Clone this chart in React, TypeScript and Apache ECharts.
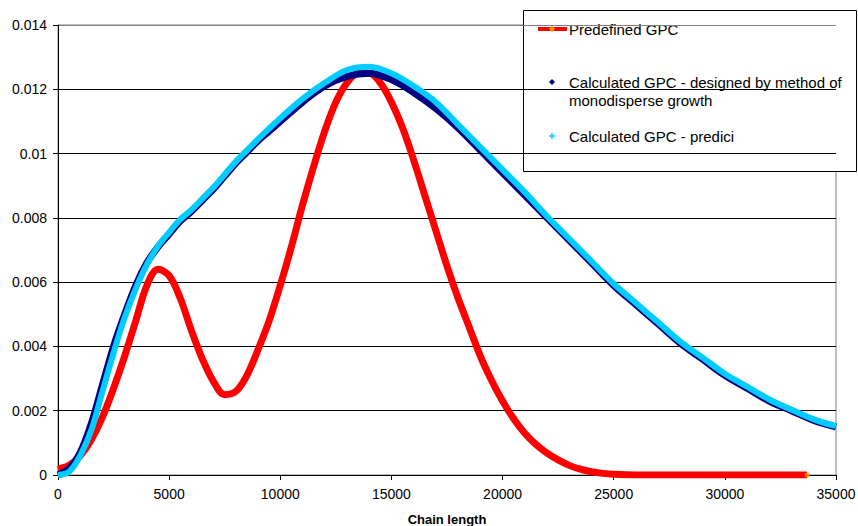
import React, { useEffect, useRef } from "react";
import * as echarts from "echarts";

// Predefined GPC (red)
const predefinedX = [0, 500, 1000, 1500, 2000, 2500, 3000, 3500, 4000, 4500, 5000, 5500, 6000, 6500, 7000, 7500, 8000, 8500, 9000, 9500, 10000, 10500, 11000, 11500, 12000, 12500, 13000, 13500, 14000, 14500, 15000, 15500, 16000, 16500, 17000, 17500, 18000, 18500, 19000, 19500, 20000, 20500, 21000, 21500, 22000, 22500, 23000, 23500, 24000, 24500, 25000, 26000, 27000, 28000, 29000, 30000, 31000, 32000, 33000, 33700];
const predefinedY = [0.00018, 0.0003, 0.0006, 0.0011, 0.0018, 0.0027, 0.0037, 0.0048, 0.0059, 0.0064, 0.0062, 0.0055, 0.0045, 0.0036, 0.0029, 0.0025, 0.0026, 0.0031, 0.0039, 0.0048, 0.0059, 0.0071, 0.0084, 0.0096, 0.0107, 0.0116, 0.0122, 0.0125, 0.0125, 0.0122, 0.0116, 0.0108, 0.0098, 0.0087, 0.0076, 0.0065, 0.0055, 0.0046, 0.0037, 0.00295, 0.0023, 0.00175, 0.0013, 0.00095, 0.00068, 0.00047, 0.0003, 0.00018, 0.0001, 0.00005, 0.00002, 0, 0, 0, 0, 0, 0, 0, 0, 0];

// Calculated GPC - designed by method of monodisperse growth (navy) and predici (cyan)
const calcX = [0, 500, 1000, 1500, 2000, 2500, 3000, 3500, 4000, 4500, 5000, 5500, 6000, 6500, 7000, 7500, 8000, 8500, 9000, 9500, 10000, 11000, 12000, 13000, 14000, 15000, 16000, 17000, 18000, 19000, 20000, 21000, 22000, 23000, 24000, 25000, 26000, 27000, 28000, 29000, 30000, 31000, 32000, 33000, 34000, 35000];
const monodisperseY = [0, 0.0002, 0.0007, 0.0016, 0.0028, 0.004, 0.005, 0.0059, 0.0066, 0.0071, 0.0075, 0.0079, 0.0082, 0.00855, 0.0089, 0.0093, 0.0097, 0.01005, 0.0104, 0.0107, 0.011, 0.0116, 0.0121, 0.0124, 0.0125, 0.0123, 0.0119, 0.0114, 0.0108, 0.0101, 0.0094, 0.0087, 0.008, 0.0073, 0.0066, 0.0059, 0.0053, 0.0047, 0.0041, 0.0036, 0.0031, 0.0027, 0.0023, 0.002, 0.0017, 0.0015];
const prediciY = [0, 0.0001, 0.0006, 0.0014, 0.0026, 0.0038, 0.0049, 0.0058, 0.00655, 0.00712, 0.00755, 0.00795, 0.00825, 0.0086, 0.00895, 0.00935, 0.00975, 0.0101, 0.01045, 0.01078, 0.0111, 0.0117, 0.0122, 0.0126, 0.0127, 0.0125, 0.0121, 0.0116, 0.0109, 0.0102, 0.0095, 0.0088, 0.00805, 0.00735, 0.00665, 0.00595, 0.00535, 0.00475, 0.00415, 0.00365, 0.00315, 0.00275, 0.00235, 0.00203, 0.00173, 0.00152];

const yTicks = ["0", "0.002", "0.004", "0.006", "0.008", "0.01", "0.012", "0.014"];
const xTicks = ["0", "5000", "10000", "15000", "20000", "25000", "30000", "35000"];
const legendNames = ["Predefined GPC", "Calculated GPC - designed by method of", "monodisperse growth", "Calculated GPC - predici"];

const FONT = "Liberation Sans, Arial, sans-serif";

export default function App() {
  const ref = useRef<HTMLDivElement>(null);
  useEffect(() => {
    if (!ref.current) return;
    const chart = echarts.init(ref.current, undefined, { renderer: "svg" });
    const zip = (xs: number[], ys: number[]) => xs.map((x, i) => [x, ys[i]]);
    const last = predefinedX.length - 1;
    chart.setOption({
      animation: false,
      backgroundColor: "#fff",
      textStyle: { fontFamily: FONT },
      grid: {
        left: 58, right: 22, top: 25, bottom: 51,
        outerBoundsMode: "none",
        containLabel: false,
        show: true, borderColor: "#808080", borderWidth: 1, backgroundColor: "transparent",
      },
      xAxis: {
        type: "value",
        min: 0,
        max: 35000,
        interval: 5000,
        name: "Chain length",
        nameLocation: "middle",
        nameGap: 38,
        nameTextStyle: { fontSize: 13, fontWeight: "bold", color: "#000", fontFamily: FONT },
        axisLine: { show: true, lineStyle: { color: "#000", width: 1 } },
        axisTick: { show: true, length: 5, lineStyle: { color: "#000" } },
        axisLabel: {
          fontSize: 14, color: "#000", margin: 12, fontFamily: FONT,
          formatter: (v: number) => xTicks[Math.round(v / 5000)] ?? String(v),
        },
        splitLine: { show: false },
      },
      yAxis: {
        type: "value",
        min: 0,
        max: 0.014,
        interval: 0.002,
        axisLine: { show: true, lineStyle: { color: "#000", width: 1 } },
        axisTick: { show: true, length: 5, lineStyle: { color: "#000" } },
        axisLabel: {
          fontSize: 14,
          color: "#000",
          margin: 11,
          fontFamily: FONT,
          formatter: (v: number) => yTicks[Math.round(v / 0.002)] ?? String(v),
        },
        splitLine: { show: true, lineStyle: { color: ["#000", "#000", "#000", "#000", "#000", "#000", "#000", "#808080"], width: 1 } },
      },
      series: [
        {
          name: legendNames[0],
          type: "line",
          data: zip(predefinedX, predefinedY),
          smooth: 0.35,
          showSymbol: false,
          lineStyle: { color: "#ff0000", width: 7 },
          itemStyle: { color: "#ff0000" },
          z: 2,
        },
        {
          name: "Predefined GPC end",
          type: "scatter",
          data: [[predefinedX[last], predefinedY[last]]],
          symbol: "circle",
          symbolSize: 5,
          itemStyle: { color: "#ff9900" },
          z: 3,
        },
        {
          name: legendNames[1] + " " + legendNames[2],
          type: "line",
          data: zip(calcX, monodisperseY),
          smooth: 0.35,
          showSymbol: false,
          lineStyle: { color: "#000080", width: 7 },
          itemStyle: { color: "#000080" },
          z: 4,
        },
        {
          name: legendNames[3],
          type: "line",
          data: zip(calcX, prediciY),
          smooth: 0.35,
          showSymbol: false,
          lineStyle: { color: "#00ccff", width: 6 },
          itemStyle: { color: "#00ccff" },
          z: 5,
        },
      ],
      graphic: [
        {
          type: "group",
          z: 100,
          children: [
            { type: "rect", shape: { x: 523.5, y: 10.5, width: 333, height: 161 }, style: { fill: "#fff", stroke: "#000", lineWidth: 1 } },
            { type: "line", shape: { x1: 538, y1: 29, x2: 567, y2: 29 }, style: { stroke: "#ff0000", lineWidth: 4 } },
            { type: "polygon", shape: { points: [[552, 26], [555, 29], [552, 32], [549, 29]] }, style: { fill: "#ff9900" } },
            { type: "text", x: 569, y: 29, style: { text: legendNames[0], font: `15px ${FONT}`, fill: "#000", verticalAlign: "middle", textAlign: "left" } },
            { type: "polygon", shape: { points: [[552, 79], [555, 82], [552, 85], [549, 82]] }, style: { fill: "#000080" } },
            { type: "text", x: 569, y: 82, style: { text: legendNames[1], font: `15px ${FONT}`, fill: "#000", verticalAlign: "middle", textAlign: "left" } },
            { type: "text", x: 569, y: 100, style: { text: legendNames[2], font: `15px ${FONT}`, fill: "#000", verticalAlign: "middle", textAlign: "left" } },
            { type: "line", shape: { x1: 549, y1: 136, x2: 555, y2: 136 }, style: { stroke: "#00ccff", lineWidth: 1.5 } },
            { type: "line", shape: { x1: 552, y1: 133, x2: 552, y2: 139 }, style: { stroke: "#00ccff", lineWidth: 1.5 } },
            { type: "text", x: 569, y: 136, style: { text: legendNames[3], font: `15px ${FONT}`, fill: "#000", verticalAlign: "middle", textAlign: "left" } },
          ],
        },
      ],
    });
    return () => chart.dispose();
  }, []);
  return <div ref={ref} style={{ position: "fixed", left: 0, top: 0, width: 858, height: 526, background: "#fff" }} />;
}
